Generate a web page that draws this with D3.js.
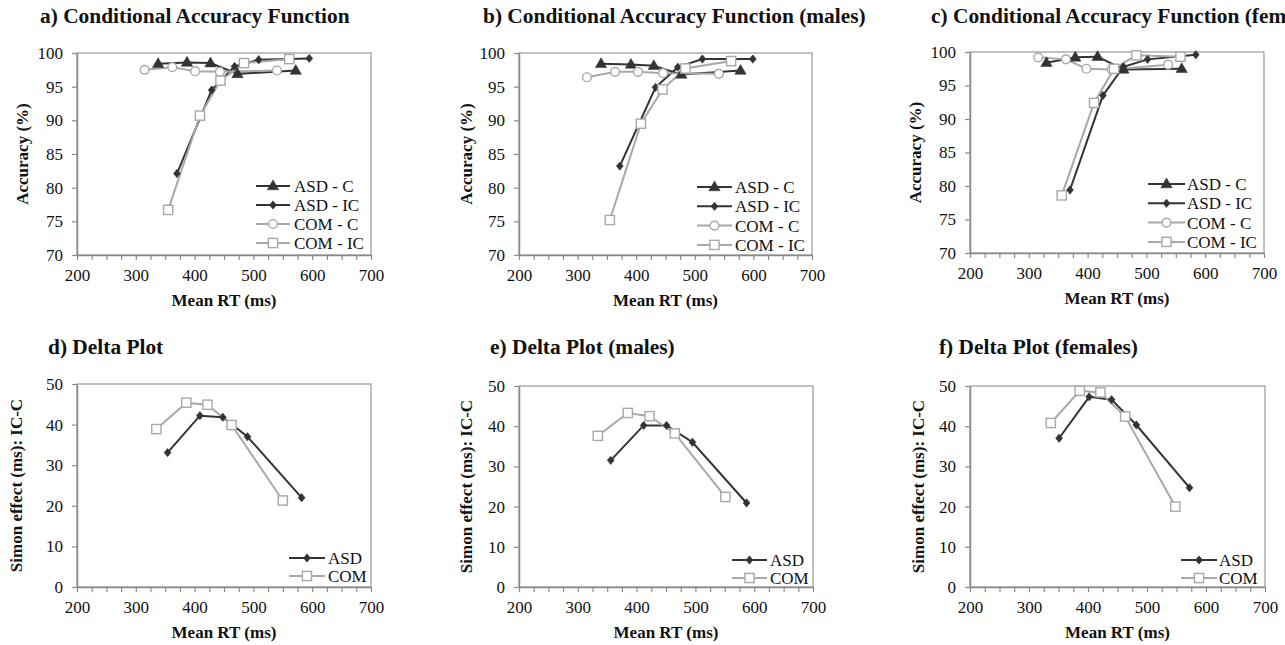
<!DOCTYPE html>
<html><head><meta charset="utf-8">
<script src="https://cdn.jsdelivr.net/npm/d3@7"></script>
<style>
body{margin:0;background:#fff;}
text{font-family:"Liberation Serif","Times New Roman",serif;fill:#111;}
</style></head>
<body>
<svg id="c" width="1285" height="645"></svg>
<script>
// ---------- DATA ----------
const cafTitles = ["a) Conditional Accuracy Function","b) Conditional Accuracy Function (males)","c) Conditional Accuracy Function (females)"];
const deltaTitles = ["d) Delta Plot","e) Delta Plot (males)","f) Delta Plot (females)"];
const xTicks = [200,300,400,500,600,700];
const cafYTicks = [70,75,80,85,90,95,100];
const deltaYTicks = [0,10,20,30,40,50];
const cafSeriesNames = ["ASD - C","ASD - IC","COM - C","COM - IC"];
const deltaSeriesNames = ["ASD","COM"];

// panel a (all)
const a_ASD_C_rt = [338,387,427,473,572];   const a_ASD_C_acc = [98.4,98.6,98.5,96.9,97.4];
const a_ASD_IC_rt = [370,429,468,509,595];  const a_ASD_IC_acc = [82.1,94.5,98.0,99.0,99.2];
const a_COM_C_rt = [315,362,401,443,540];   const a_COM_C_acc = [97.5,97.9,97.3,97.2,97.4];
const a_COM_IC_rt = [355,409,444,484,561];  const a_COM_IC_acc = [76.7,90.7,95.9,98.5,99.1];
// panel b (males)
const b_ASD_C_rt = [340,391,430,477,578];   const b_ASD_C_acc = [98.4,98.3,98.1,96.8,97.4];
const b_ASD_IC_rt = [372,433,471,513,599];  const b_ASD_IC_acc = [83.2,94.9,97.9,99.1,99.1];
const b_COM_C_rt = [316,364,403,446,541];   const b_COM_C_acc = [96.4,97.2,97.2,97.0,96.9];
const b_COM_IC_rt = [355,408,445,484,562];  const b_COM_IC_acc = [75.2,89.5,94.6,97.7,98.8];
// panel c (females)
const c_ASD_C_rt = [330,379,417,461,560];   const c_ASD_C_acc = [98.4,99.2,99.3,97.4,97.5];
const c_ASD_IC_rt = [370,426,461,502,584];  const c_ASD_IC_acc = [79.4,93.5,97.8,98.9,99.6];
const c_COM_C_rt = [316,363,398,441,537];   const c_COM_C_acc = [99.2,98.9,97.5,97.4,98.1];
const c_COM_IC_rt = [356,411,445,483,558];  const c_COM_IC_acc = [78.6,92.4,97.5,99.5,99.3];
// panel d (all)
const d_ASD_rt = [354,409,448,490,582];  const d_ASD_eff = [33.1,42.2,41.8,37.0,22.0];
const d_COM_rt = [335,386,422,463,550];  const d_COM_eff = [38.9,45.4,44.9,39.9,21.3];
// panel e (males)
const e_ASD_rt = [356,412,451,495,587];  const e_ASD_eff = [31.5,40.2,40.2,36.0,20.9];
const e_COM_rt = [334,385,422,465,551];  const e_COM_eff = [37.6,43.3,42.5,38.2,22.4];
// panel f (females)
const f_ASD_rt = [351,402,440,482,572];  const f_ASD_eff = [37.0,47.3,46.6,40.3,24.7];
const f_COM_rt = [337,386,421,463,548];  const f_COM_eff = [40.8,48.8,48.4,42.4,20.0];

// ---------- STYLES ----------
const DARK = "#333333", LIGHT = "#a8a8a8";
const cafStyles = [
  {color:DARK, marker:"triangle"},
  {color:DARK, marker:"diamond"},
  {color:LIGHT, marker:"circle"},
  {color:LIGHT, marker:"square"}
];
const deltaStyles = [
  {color:DARK, marker:"diamond"},
  {color:LIGHT, marker:"square"}
];

const zip = (xs, ys) => xs.map((x,i)=>[x, ys[i]]);

const panels = [
  {title:cafTitles[0], ylab:"Accuracy (%)", yd:[70,100], yt:cafYTicks, names:cafSeriesNames, styles:cafStyles,
   series:[zip(a_ASD_C_rt,a_ASD_C_acc),zip(a_ASD_IC_rt,a_ASD_IC_acc),zip(a_COM_C_rt,a_COM_C_acc),zip(a_COM_IC_rt,a_COM_IC_acc)],
   L:77,R:371,T:53,B:255, tx:40, ty:23, ylx:22, leg:{x1:256,x2:290,tx:294,y0:186,dy:19}},
  {title:cafTitles[1], ylab:"Accuracy (%)", yd:[70,100], yt:cafYTicks, names:cafSeriesNames, styles:cafStyles,
   series:[zip(b_ASD_C_rt,b_ASD_C_acc),zip(b_ASD_IC_rt,b_ASD_IC_acc),zip(b_COM_C_rt,b_COM_C_acc),zip(b_COM_IC_rt,b_COM_IC_acc)],
   L:519,R:812,T:53,B:255, tx:483, ty:23, ylx:466, leg:{x1:697,x2:732,tx:735,y0:187,dy:19.3}},
  {title:cafTitles[2], ylab:"Accuracy (%)", yd:[70,100], yt:cafYTicks, names:cafSeriesNames, styles:cafStyles,
   series:[zip(c_ASD_C_rt,c_ASD_C_acc),zip(c_ASD_IC_rt,c_ASD_IC_acc),zip(c_COM_C_rt,c_COM_C_acc),zip(c_COM_IC_rt,c_COM_IC_acc)],
   L:970,R:1264,T:52,B:253, tx:931, ty:23, ylx:915, leg:{x1:1148,x2:1185,tx:1187,y0:184,dy:19.3}},
  {title:deltaTitles[0], ylab:"Simon effect (ms): IC-C", yd:[0,50], yt:deltaYTicks, names:deltaSeriesNames, styles:deltaStyles,
   series:[zip(d_ASD_rt,d_ASD_eff),zip(d_COM_rt,d_COM_eff)],
   L:77,R:371,T:384,B:587, tx:48, ty:354, ylx:16, leg:{x1:289,x2:325,tx:328,y0:558,dy:18}},
  {title:deltaTitles[1], ylab:"Simon effect (ms): IC-C", yd:[0,50], yt:deltaYTicks, names:deltaSeriesNames, styles:deltaStyles,
   series:[zip(e_ASD_rt,e_ASD_eff),zip(e_COM_rt,e_COM_eff)],
   L:519,R:813,T:386,B:587, tx:490, ty:354, ylx:466, leg:{x1:732,x2:767,tx:770,y0:560,dy:18}},
  {title:deltaTitles[2], ylab:"Simon effect (ms): IC-C", yd:[0,50], yt:deltaYTicks, names:deltaSeriesNames, styles:deltaStyles,
   series:[zip(f_ASD_rt,f_ASD_eff),zip(f_COM_rt,f_COM_eff)],
   L:970,R:1265,T:386,B:587, tx:939, ty:354, ylx:918, leg:{x1:1181,x2:1217,tx:1219,y0:560,dy:18}}
];

const svg = d3.select("#c");
const SERIF = '"Liberation Serif","Times New Roman",serif';

function drawMarker(g, type, x, y, color){
  if(type==="triangle"){
    g.append("path").attr("d", d3.symbol(d3.symbolTriangle, 56)()).attr("transform",`translate(${x},${y+0.5})`)
      .attr("fill",color).attr("stroke",color).attr("stroke-width",0.5);
  } else if(type==="diamond"){
    g.append("path").attr("d","M0,-4.2L3.5,0L0,4.2L-3.5,0Z").attr("transform",`translate(${x},${y})`)
      .attr("fill",color).attr("stroke",color).attr("stroke-width",0.5);
  } else if(type==="circle"){
    g.append("circle").attr("cx",x).attr("cy",y).attr("r",4.4).attr("fill","#fff").attr("stroke",color).attr("stroke-width",1.4);
  } else if(type==="square"){
    g.append("rect").attr("x",x-4.6).attr("y",y-4.6).attr("width",9.2).attr("height",9.2).attr("fill","#fff").attr("stroke",color).attr("stroke-width",1.4);
  }
}

panels.forEach(p=>{
  const g = svg.append("g");
  const x = d3.scaleLinear().domain([200,700]).range([p.L,p.R]);
  const y = d3.scaleLinear().domain(p.yd).range([p.B,p.T]);

  // frame
  g.append("rect").attr("x",p.L).attr("y",p.T).attr("width",p.R-p.L).attr("height",p.B-p.T)
    .attr("fill","none").attr("stroke","#a0a0a0").attr("stroke-width",1.3);

  // x axis
  const minorX = d3.range(200,701,25);
  const xa = g.append("g").attr("transform",`translate(0,${p.B})`)
    .call(d3.axisBottom(x).tickValues(minorX).tickSize(5).tickSizeOuter(0).tickFormat(d=> xTicks.includes(d)? String(d):""));
  xa.attr("font-family",SERIF);
  xa.select(".domain").attr("stroke","#8a8a8a").attr("stroke-width",1.5);
  xa.selectAll(".tick line").attr("stroke","#8a8a8a").attr("stroke-width",1.2);
  xa.selectAll(".tick text").attr("font-size",17).attr("y",20).attr("dy","0.35em").attr("fill","#111");

  // y axis
  const ya = g.append("g").attr("transform",`translate(${p.L},0)`)
    .call(d3.axisLeft(y).tickValues(p.yt).tickSize(5).tickSizeOuter(0).tickFormat(d3.format("d")));
  ya.attr("font-family",SERIF);
  ya.select(".domain").attr("stroke","#8a8a8a").attr("stroke-width",1.5);
  ya.selectAll(".tick line").attr("stroke","#8a8a8a").attr("stroke-width",1.2);
  ya.selectAll(".tick text").attr("font-size",17).attr("fill","#111").attr("x",-14);

  // title
  g.append("text").attr("x",p.tx).attr("y",p.ty).attr("font-size",21.4).attr("font-weight","bold").text(p.title);
  // x label
  g.append("text").attr("x",(p.L+p.R)/2).attr("y",p.B+51).attr("text-anchor","middle")
    .attr("font-size",17).attr("font-weight","bold").text("Mean RT (ms)");
  // y label
  g.append("text").attr("transform",`translate(${p.ylx},${(p.T+p.B)/2}) rotate(-90)`).attr("text-anchor","middle")
    .attr("dy","0.35em").attr("font-size",17).attr("font-weight","bold").text(p.ylab);

  // series
  const line = d3.line().x(d=>x(d[0])).y(d=>y(d[1]));
  p.series.forEach((s,i)=>{
    const st = p.styles[i];
    g.append("path").datum(s).attr("d",line).attr("fill","none").attr("stroke",st.color).attr("stroke-width",2);
  });
  p.series.forEach((s,i)=>{
    const st = p.styles[i];
    s.forEach(d=>drawMarker(g, st.marker, x(d[0]), y(d[1]), st.color));
  });

  // legend
  p.names.forEach((n,i)=>{
    const st = p.styles[i];
    const ly = p.leg.y0 + i*p.leg.dy;
    g.append("line").attr("x1",p.leg.x1).attr("x2",p.leg.x2).attr("y1",ly).attr("y2",ly)
      .attr("stroke",st.color).attr("stroke-width",2);
    drawMarker(g, st.marker, (p.leg.x1+p.leg.x2)/2, ly, st.color);
    g.append("text").attr("x",p.leg.tx).attr("y",ly).attr("dy","0.35em").attr("font-size",17).text(n);
  });
});
</script>
</body></html>
